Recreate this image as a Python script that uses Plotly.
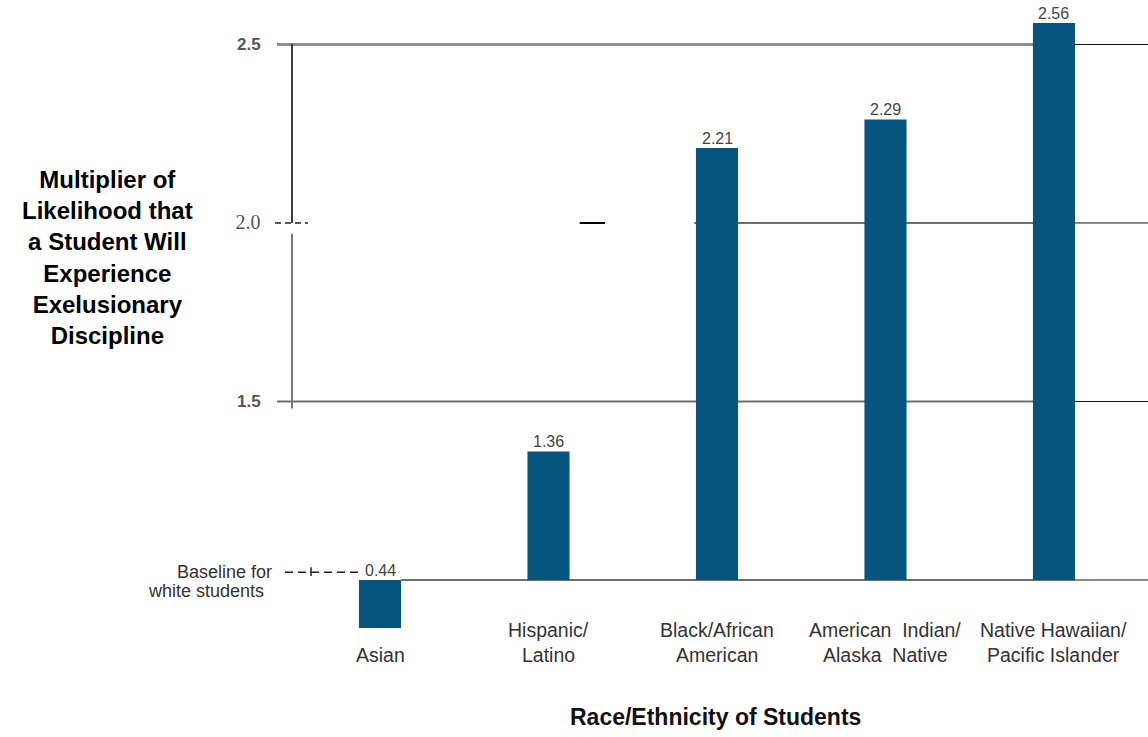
import plotly.graph_objects as go

# ---- data ----------------------------------------------------------------
categories = ["Asian", "Hispanic/Latino", "Black/African American",
              "American Indian/Alaska Native", "Native Hawaiian/Pacific Islander"]
category_lines = [["Asian"], ["Hispanic/", "Latino"], ["Black/African", "American"],
                  ["American  Indian/", "Alaska  Native"],
                  ["Native Hawaiian/", "Pacific Islander"]]
multipliers = [0.44, 1.36, 2.21, 2.29, 2.56]
baseline = 1.0  # white students
y_tick_values = [1.5, 2.0, 2.5]
y_tick_labels = ["1.5",
                 "<span style='font-family:Liberation Serif;font-size:20px;font-weight:normal'>2.0</span>",
                 "2.5"]

# ---- layout geometry -----------------------------------------------------
W, H = 1148, 737
M_L, M_B = 270, 109
PLOT_W, PLOT_H = W - M_L, H - M_B
X_RANGE = [-0.653, 4.558]
Y_RANGE = [0.8655, 2.6246]
BAR_W = 0.25
BAR_COLOR = "#05557f"
GRID_GREY = "#8c8c8c"
SANS = "Liberation Sans"


def px_x(px):
    """horizontal pixel -> x data value"""
    return X_RANGE[0] + (px - M_L) * (X_RANGE[1] - X_RANGE[0]) / PLOT_W


def px_paper_y(py):
    """vertical pixel (from top) -> paper y"""
    return 1 - py / PLOT_H


last_edge = len(categories) - 1 + BAR_W / 2
axis_x = px_x(292)

fig = go.Figure()
fig.add_trace(go.Bar(
    x=categories,
    y=[v - baseline for v in multipliers],
    base=baseline,
    width=BAR_W,
    marker=dict(color=BAR_COLOR, line=dict(width=0)),
    hoverinfo="skip",
))

shapes = []


def hline(y, x0, x1, color, width, dash="solid"):
    shapes.append(dict(type="line", xref="x", yref="y", x0=x0, x1=x1, y0=y, y1=y,
                       line=dict(color=color, width=width, dash=dash), layer="below"))


def vline(x, y0, y1, color, width):
    shapes.append(dict(type="line", xref="x", yref="y", x0=x, x1=x, y0=y0, y1=y1,
                       line=dict(color=color, width=width), layer="below"))


# horizontal reference lines (grey up to the last bar, thin black beyond)
hline(2.5, px_x(277), last_edge, GRID_GREY, 3)
hline(2.5, last_edge, X_RANGE[1], "#111", 1)
hline(1.5, px_x(277), last_edge, "#6e6e6e", 2)
hline(1.5, last_edge, X_RANGE[1], "#111", 1)
hline(2.0, px_x(275), px_x(308), "#222", 1.5, dash="6px,4px")
hline(2.0, 1 + BAR_W / 2 + 0.06, 1 + BAR_W / 2 + 0.21, "#000", 2)
hline(2.0, 2 - BAR_W / 2 - 0.01, last_edge, "#6e6e6e", 2)
hline(2.0, last_edge, X_RANGE[1], "#111", 1)
hline(baseline, BAR_W / 2, last_edge, "#6e6e6e", 2)
hline(baseline, last_edge, X_RANGE[1], "#111", 1)
# dashed pointer from the baseline note
hline(baseline + 0.022, px_x(285), px_x(362), "#222", 1.5, dash="8px,5px")
vline(px_x(311), baseline + 0.011, baseline + 0.036, "#222", 1.5)

# vertical axis: black upper part, grey lower part
vline(axis_x, 2.0, 2.5, "#000", 1.5)
vline(axis_x, 1.48, 1.97, "#7a7a7a", 2)

annotations = []
# value labels
for cat, v in zip(categories, multipliers):
    annotations.append(dict(x=cat, y=max(v, baseline), xref="x", yref="y",
                            text=f"{v:.2f}", showarrow=False, yanchor="bottom",
                            borderpad=0,
                            font=dict(family=SANS, size=16, color="#444")))

# category labels (two rows; single-line labels sit on the lower row)
row_y = [px_paper_y(630), px_paper_y(655)]
for cat, lines in zip(categories, category_lines):
    rows = row_y[-len(lines):]
    for txt, ry in zip(lines, rows):
        annotations.append(dict(x=cat, y=ry, xref="x", yref="paper", text=txt,
                                showarrow=False, yanchor="middle",
                                font=dict(family=SANS, size=19.5, color="#333")))

# axis titles
annotations.append(dict(
    x=(107 - M_L) / PLOT_W, y=px_paper_y(257), xref="paper", yref="paper",
    text="Multiplier of<br>Likelihood that<br>a Student Will<br>Experience<br>Exelusionary<br>Discipline",
    showarrow=False, align="center", xanchor="center", yanchor="middle",
    font=dict(family=SANS, size=24, color="#000", weight="bold")))
annotations.append(dict(
    x=(715 - M_L) / PLOT_W, y=px_paper_y(717), xref="paper", yref="paper",
    text="Race/Ethnicity of Students", showarrow=False,
    xanchor="center", yanchor="middle",
    font=dict(family=SANS, size=23, color="#111", weight="bold")))

# baseline note
annotations.append(dict(
    x=(224 - M_L) / PLOT_W, y=px_paper_y(572), xref="paper", yref="paper",
    text="Baseline for", showarrow=False, xanchor="center", yanchor="middle",
    font=dict(family=SANS, size=18, color="#333")))
annotations.append(dict(
    x=(206 - M_L) / PLOT_W, y=px_paper_y(591), xref="paper", yref="paper",
    text="white students", showarrow=False, xanchor="center", yanchor="middle",
    font=dict(family=SANS, size=18, color="#333")))

fig.update_layout(
    width=W, height=H,
    margin=dict(l=M_L, r=0, t=0, b=M_B),
    plot_bgcolor="white", paper_bgcolor="white",
    showlegend=False,
    shapes=shapes,
    annotations=annotations,
    xaxis=dict(type="category", range=X_RANGE, showticklabels=False,
               showgrid=False, zeroline=False, showline=False, ticks=""),
    yaxis=dict(range=Y_RANGE, tickvals=y_tick_values, ticktext=y_tick_labels,
               showgrid=False, zeroline=False, showline=False,
               ticks="outside", ticklen=5, tickcolor="rgba(0,0,0,0)",
               tickfont=dict(family=SANS, size=17, color="#555", weight="bold")),
)

fig.write_html("out.html")
